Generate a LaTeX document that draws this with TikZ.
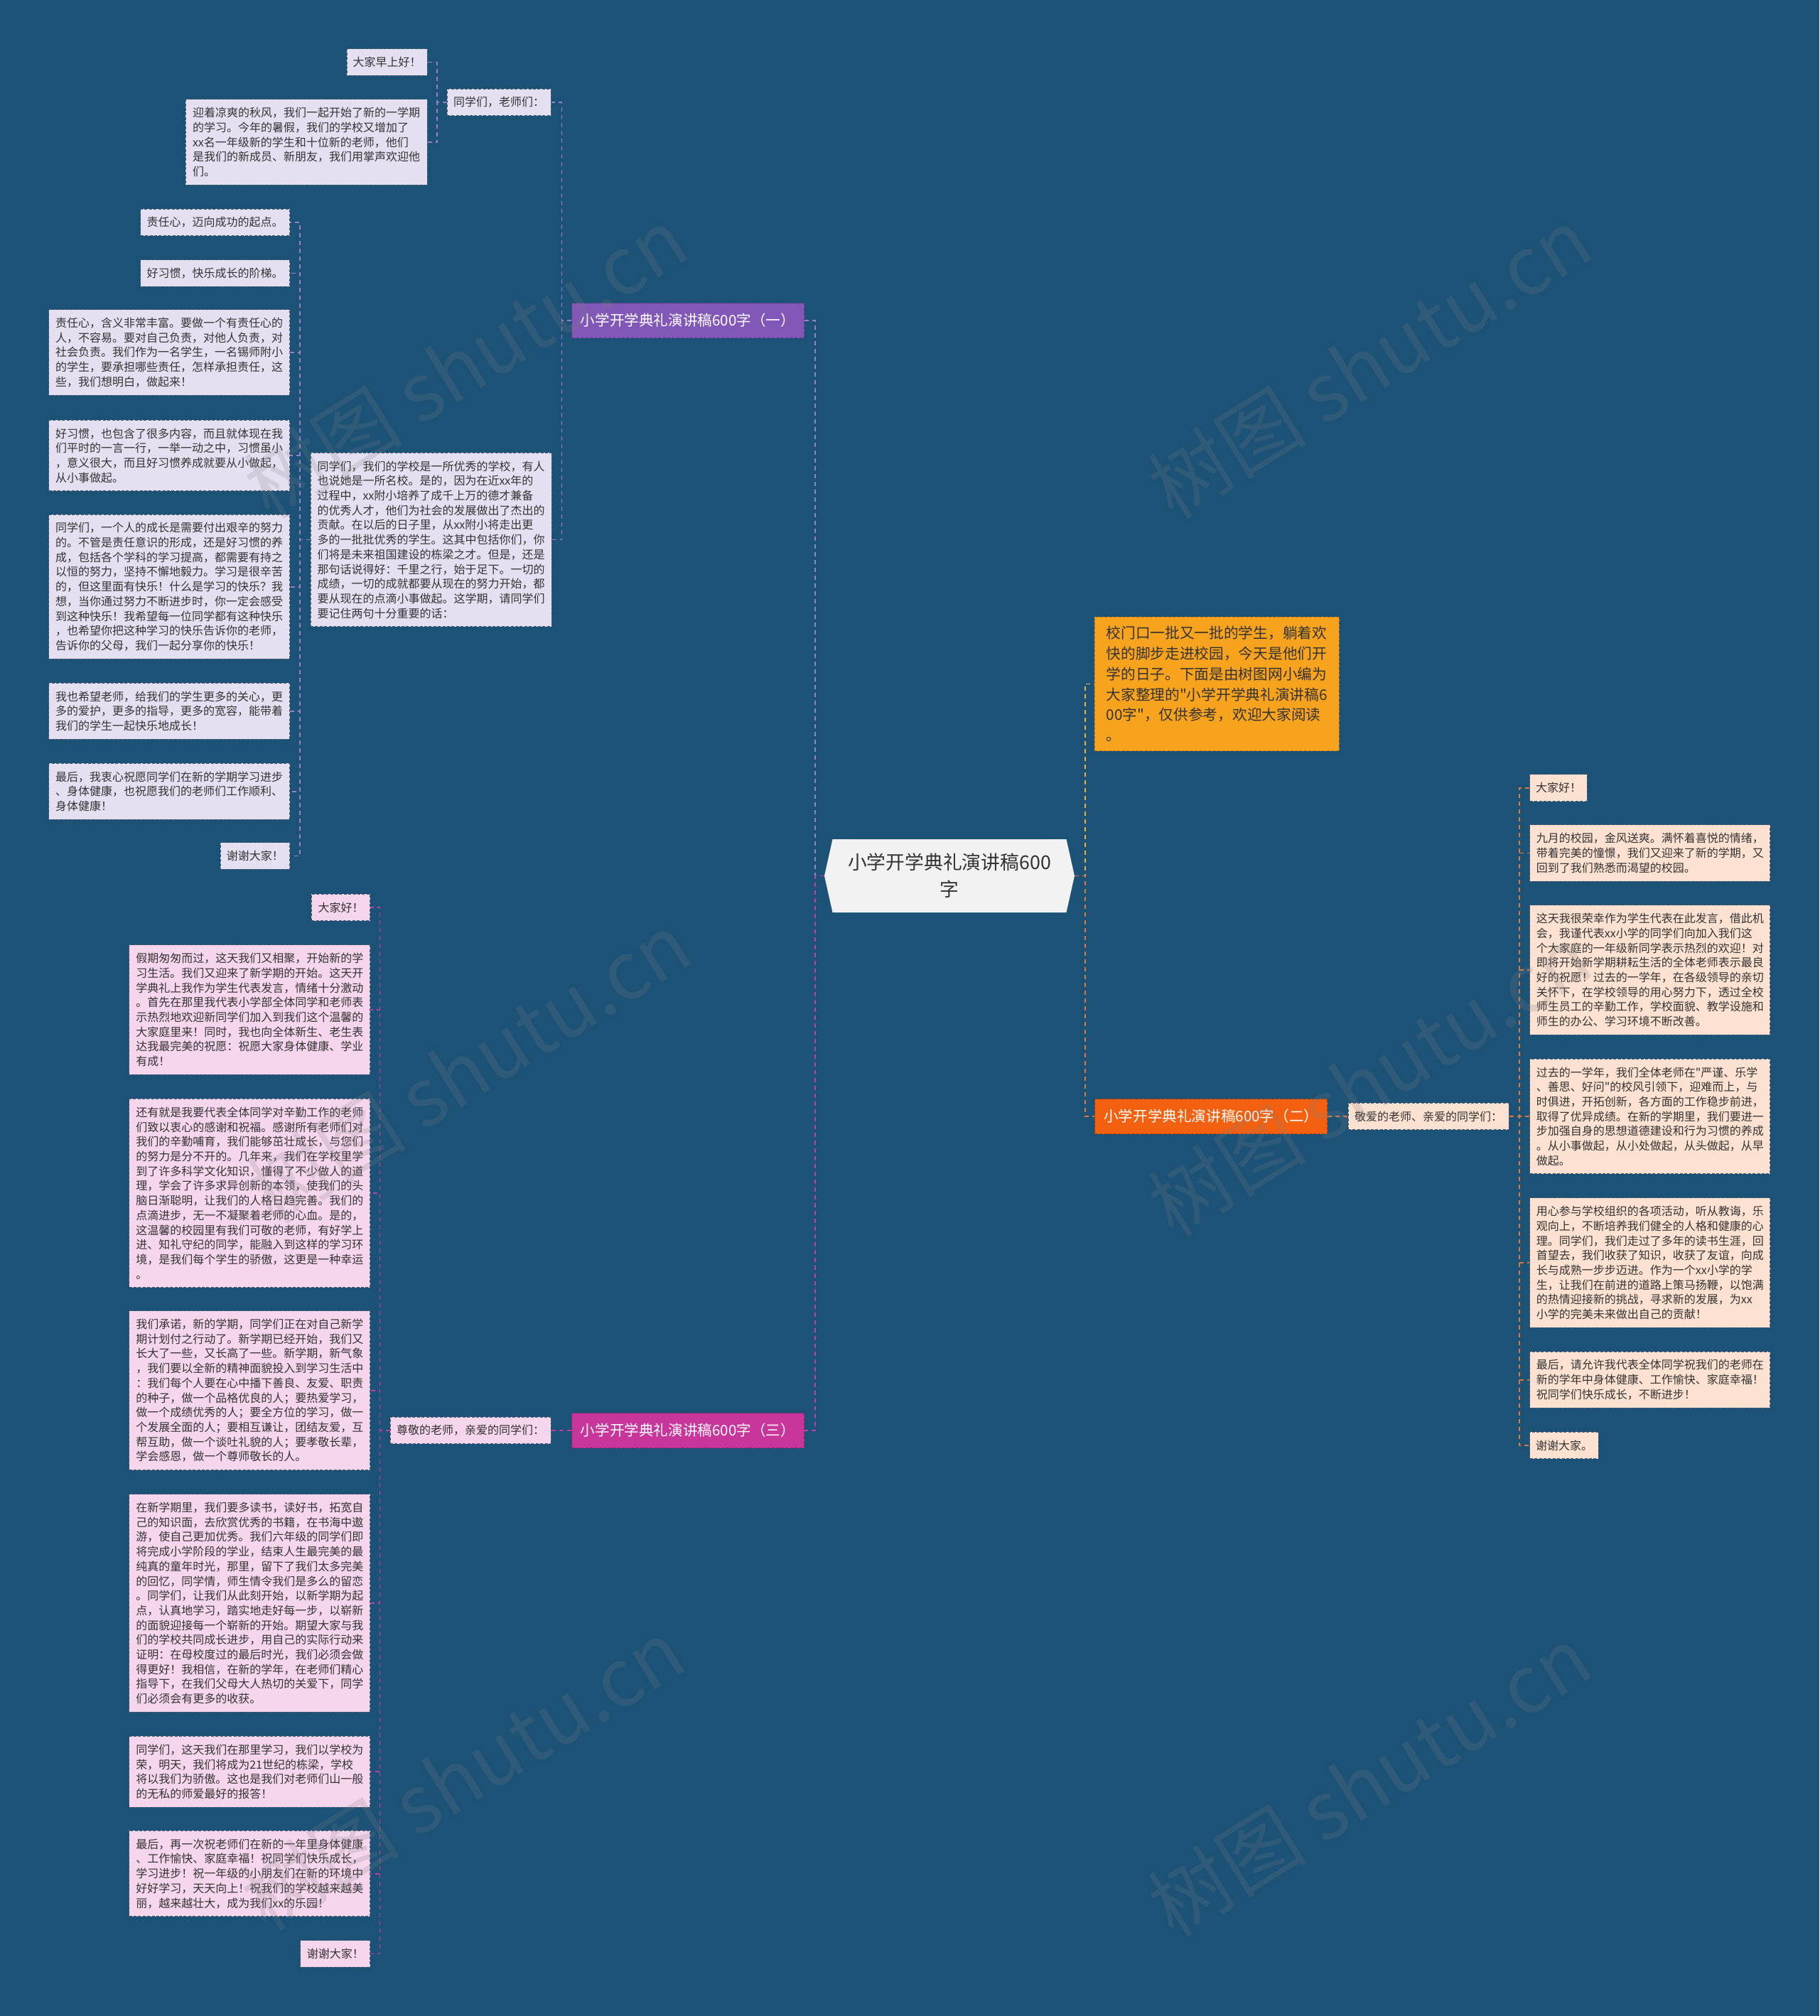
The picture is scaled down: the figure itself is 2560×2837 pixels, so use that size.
\documentclass[tikz,border=0pt]{standalone}
\usepackage{fontspec}
\newfontfamily\cjk{Noto Sans CJK SC}
\usetikzlibrary{calc}
\definecolor{bg}{HTML}{1B5276}
\definecolor{lavc}{HTML}{E5E0F1}
\definecolor{pinkc}{HTML}{F5D6EC}
\definecolor{peachc}{HTML}{FDE1D1}
\definecolor{purc}{HTML}{8157B8}
\definecolor{magc}{HTML}{C8359B}
\definecolor{orac}{HTML}{F3600F}
\definecolor{yelc}{HTML}{F8A31E}
\definecolor{cenc}{HTML}{F2F2F2}
\definecolor{txtc}{HTML}{333333}
\definecolor{bord}{HTML}{4E5D78}
\definecolor{lpur}{HTML}{9A7ECB}
\definecolor{lmag}{HTML}{C23FA0}
\definecolor{lora}{HTML}{DD7840}
\definecolor{lyel}{HTML}{F1B03A}
\newcommand\myfs{\cjk\fontsize{8pt}{10.35pt}\selectfont}
\newcommand\myfi{\cjk\fontsize{10.35pt}{14.35pt}\selectfont}
\newcommand\mybf{\cjk\fontsize{10.3pt}{12pt}\selectfont}
\newcommand\myfc{\cjk\fontsize{13.4pt}{19pt}\selectfont}
\newcommand\mywm{\cjk\fontsize{56pt}{60pt}\selectfont}
\tikzset{
 tb/.style={draw=bord, dash pattern=on 2pt off 1.2pt, line width=0.5pt, inner sep=0pt, align=left, text=txtc, font=\myfs},
 lav/.style={tb, fill=lavc},
 pnk/.style={tb, fill=pinkc},
 pch/.style={tb, fill=peachc},
 nl/.style={minimum height={(8.5+10.35*#1)*1pt}},
 wd/.style={minimum width={#1*0.5pt}},
 br/.style={inner sep=0pt, minimum width=163.5pt, minimum height=24.5pt, text=white, font=\mybf, dash pattern=on 2pt off 1.2pt, line width=0.5pt},
 cn/.style={dash pattern=on 3pt off 2.5pt, line width=0.9pt},
 wm/.style={font=\mywm, text=gray, opacity=0.2, rotate=32},
}
\begin{document}
\begin{tikzpicture}[x=0.5pt,y=-0.5pt]
\useasboundingbox (0,0) rectangle (2560,2837);
\fill[bg] (0,0) rectangle (2560,2837);

% trunks
\coordinate (tL) at (1147,0);
\coordinate (tR) at (1527,0);
\coordinate (t1) at (790.5,0);
\coordinate (t11) at (615,0);
\coordinate (t12) at (421.7,0);
\coordinate (t3) at (534.5,0);
\coordinate (t2) at (2138.3,0);

% center
\node[minimum width=176pt, minimum height=51.5pt, inner sep=0pt, align=center, text=txtc, font=\myfc,
  path picture={\fill[cenc] (path picture bounding box.west) -- ([xshift=5.75pt]path picture bounding box.north west) -- ([xshift=-5.75pt]path picture bounding box.north east) -- (path picture bounding box.east) -- ([xshift=-5.75pt]path picture bounding box.south east) -- ([xshift=5.75pt]path picture bounding box.south west) -- cycle;}]
  (c) at (1336,1232.5) {小学开学典礼演讲稿600\\字};

% branch 1
\node[br, fill=purc, draw=purc!70!black] (b1) at (968,451) {小学开学典礼演讲稿600字（一）};
\node[lav, wd=146, nl=1] (n11) at (702,144) {同学们，老师们：};
\node[lav, wd=113, nl=1] (n111) at (544.5,87.5) {大家早上好！};
\node[lav, wd=340, nl=5] (n112) at (431,200) {迎着凉爽的秋风，我们一起开始了新的一学期\\的学习。今年的暑假，我们的学校又增加了\\xx名一年级新的学生和十位新的老师，他们\\是我们的新成员、新朋友，我们用掌声欢迎他\\们。};
\node[lav, wd=339, nl=11] (n12) at (606.5,759.5) {同学们，我们的学校是一所优秀的学校，有人\\也说她是一所名校。是的，因为在近xx年的\\过程中，xx附小培养了成千上万的德才兼备\\的优秀人才，他们为社会的发展做出了杰出的\\贡献。在以后的日子里，从xx附小将走出更\\多的一批批优秀的学生。这其中包括你们，你\\们将是未来祖国建设的栋梁之才。但是，还是\\那句话说得好：千里之行，始于足下。一切的\\成绩，一切的成就都要从现在的努力开始，都\\要从现在的点滴小事做起。这学期，请同学们\\要记住两句十分重要的话：};
\node[lav, wd=210, nl=1] (n121) at (302.7,313) {责任心，迈向成功的起点。};
\node[lav, wd=210, nl=1] (n122) at (302.7,384.5) {好习惯，快乐成长的阶梯。};
\node[lav, wd=339, nl=5] (n123) at (238,496) {责任心，含义非常丰富。要做一个有责任心的\\人，不容易。要对自己负责，对他人负责，对\\社会负责。我们作为一名学生，一名锡师附小\\的学生，要承担哪些责任，怎样承担责任，这\\些，我们想明白，做起来！};
\node[lav, wd=339, nl=4] (n124) at (238,641) {好习惯，也包含了很多内容，而且就体现在我\\们平时的一言一行，一举一动之中，习惯虽小\\，意义很大，而且好习惯养成就要从小做起，\\从小事做起。};
\node[lav, wd=339, nl=9] (n125) at (238,825.7) {同学们，一个人的成长是需要付出艰辛的努力\\的。不管是责任意识的形成，还是好习惯的养\\成，包括各个学科的学习提高，都需要有持之\\以恒的努力，坚持不懈地毅力。学习是很辛苦\\的，但这里面有快乐！什么是学习的快乐？我\\想，当你通过努力不断进步时，你一定会感受\\到这种快乐！我希望每一位同学都有这种快乐\\，也希望你把这种学习的快乐告诉你的老师，\\告诉你的父母，我们一起分享你的快乐！};
\node[lav, wd=339, nl=3] (n126) at (238,1000.8) {我也希望老师，给我们的学生更多的关心，更\\多的爱护，更多的指导，更多的宽容，能带着\\我们的学生一起快乐地成长！};
\node[lav, wd=339, nl=3] (n127) at (238,1113.7) {最后，我衷心祝愿同学们在新的学期学习进步\\、身体健康，也祝愿我们的老师们工作顺利、\\身体健康！};
\node[lav, wd=97.7, nl=1] (n128) at (358.9,1204.5) {谢谢大家！};

% intro
\node[tb, fill=yelc, draw=yelc!75!black, wd=343.6, minimum height=94.15pt, font=\myfi] (intro) at (1712.2,962.5) {校门口一批又一批的学生，躺着欢\\快的脚步走进校园，今天是他们开\\学的日子。下面是由树图网小编为\\大家整理的"小学开学典礼演讲稿6\\00字"，仅供参考，欢迎大家阅读\\。};

% branch 2
\node[br, fill=orac, draw=orac!70!black] (b2) at (1704.3,1571) {小学开学典礼演讲稿600字（二）};
\node[pch, wd=226.4, nl=1] (n2) at (2010.2,1571) {敬爱的老师、亲爱的同学们：};
\node[pch, wd=80.6, nl=1] (n21) at (2193,1108.7) {大家好！};
\node[pch, wd=338.3, nl=3] (n22) at (2321.8,1200.5) {九月的校园，金风送爽。满怀着喜悦的情绪，\\带着完美的憧憬，我们又迎来了新的学期，又\\回到了我们熟悉而渴望的校园。};
\node[pch, wd=338.3, nl=8] (n23) at (2321.8,1365) {这天我很荣幸作为学生代表在此发言，借此机\\会，我谨代表xx小学的同学们向加入我们这\\个大家庭的一年级新同学表示热烈的欢迎！对\\即将开始新学期耕耘生活的全体老师表示最良\\好的祝愿！过去的一学年，在各级领导的亲切\\关怀下，在学校领导的用心努力下，透过全校\\师生员工的辛勤工作，学校面貌、教学设施和\\师生的办公、学习环境不断改善。};
\node[pch, wd=338.3, nl=7] (n24) at (2321.8,1571) {过去的一学年，我们全体老师在"严谨、乐学\\、善思、好问"的校风引领下，迎难而上，与\\时俱进，开拓创新，各方面的工作稳步前进，\\取得了优异成绩。在新的学期里，我们要进一\\步加强自身的思想道德建设和行为习惯的养成\\。从小事做起，从小处做起，从头做起，从早\\做起。};
\node[pch, wd=338.3, nl=8] (n25) at (2321.8,1777) {用心参与学校组织的各项活动，听从教诲，乐\\观向上，不断培养我们健全的人格和健康的心\\理。同学们，我们走过了多年的读书生涯，回\\首望去，我们收获了知识，收获了友谊，向成\\长与成熟一步步迈进。作为一个xx小学的学\\生，让我们在前进的道路上策马扬鞭，以饱满\\的热情迎接新的挑战，寻求新的发展，为xx\\小学的完美未来做出自己的贡献！};
\node[pch, wd=338.3, nl=3] (n26) at (2321.8,1941.6) {最后，请允许我代表全体同学祝我们的老师在\\新的学年中身体健康、工作愉快、家庭幸福！\\祝同学们快乐成长，不断进步！};
\node[pch, wd=96.6, nl=1] (n27) at (2201,2034) {谢谢大家。};

% branch 3
\node[br, fill=magc, draw=magc!70!black] (b3) at (968,2013) {小学开学典礼演讲稿600字（三）};
\node[pnk, wd=226, nl=1] (n3) at (662,2013) {尊敬的老师，亲爱的同学们：};
\node[pnk, wd=82.7, nl=1] (n31) at (479.6,1277) {大家好！};
\node[pnk, wd=339.3, nl=8] (n32) at (351.3,1421) {假期匆匆而过，这天我们又相聚，开始新的学\\习生活。我们又迎来了新学期的开始。这天开\\学典礼上我作为学生代表发言，情绪十分激动\\。首先在那里我代表小学部全体同学和老师表\\示热烈地欢迎新同学们加入到我们这个温馨的\\大家庭里来！同时，我也向全体新生、老生表\\达我最完美的祝愿：祝愿大家身体健康、学业\\有成！};
\node[pnk, wd=339.3, nl=12] (n33) at (351.3,1679) {还有就是我要代表全体同学对辛勤工作的老师\\们致以衷心的感谢和祝福。感谢所有老师们对\\我们的辛勤哺育，我们能够茁壮成长，与您们\\的努力是分不开的。几年来，我们在学校里学\\到了许多科学文化知识，懂得了不少做人的道\\理，学会了许多求异创新的本领，使我们的头\\脑日渐聪明，让我们的人格日趋完善。我们的\\点滴进步，无一不凝聚着老师的心血。是的，\\这温馨的校园里有我们可敬的老师，有好学上\\进、知礼守纪的同学，能融入到这样的学习环\\境，是我们每个学生的骄傲，这更是一种幸运\\。};
\node[pnk, wd=339.3, nl=10] (n34) at (351.3,1956.7) {我们承诺，新的学期，同学们正在对自己新学\\期计划付之行动了。新学期已经开始，我们又\\长大了一些，又长高了一些。新学期，新气象\\，我们要以全新的精神面貌投入到学习生活中\\：我们每个人要在心中播下善良、友爱、职责\\的种子，做一个品格优良的人；要热爱学习，\\做一个成绩优秀的人；要全方位的学习，做一\\个发展全面的人；要相互谦让，团结友爱，互\\帮互助，做一个谈吐礼貌的人；要孝敬长辈，\\学会感恩，做一个尊师敬长的人。};
\node[pnk, wd=339.3, nl=14] (n35) at (351.3,2255.9) {在新学期里，我们要多读书，读好书，拓宽自\\己的知识面，去欣赏优秀的书籍，在书海中遨\\游，使自己更加优秀。我们六年级的同学们即\\将完成小学阶段的学业，结束人生最完美的最\\纯真的童年时光，那里，留下了我们太多完美\\的回忆，同学情，师生情令我们是多么的留恋\\。同学们，让我们从此刻开始，以新学期为起\\点，认真地学习，踏实地走好每一步，以崭新\\的面貌迎接每一个崭新的开始。期望大家与我\\们的学校共同成长进步，用自己的实际行动来\\证明：在母校度过的最后时光，我们必须会做\\得更好！我相信，在新的学年，在老师们精心\\指导下，在我们父母大人热切的关爱下，同学\\们必须会有更多的收获。};
\node[pnk, wd=339.3, nl=4] (n36) at (351.3,2493.3) {同学们，这天我们在那里学习，我们以学校为\\荣，明天，我们将成为21世纪的栋梁，学校\\将以我们为骄傲。这也是我们对老师们山一般\\的无私的师爱最好的报答！};
\node[pnk, wd=339.3, nl=5] (n37) at (351.3,2636.7) {最后，再一次祝老师们在新的一年里身体健康\\、工作愉快、家庭幸福！祝同学们快乐成长，\\学习进步！祝一年级的小朋友们在新的环境中\\好好学习，天天向上！祝我们的学校越来越美\\丽，越来越壮大，成为我们xx的乐园！};
\node[pnk, wd=98.3, nl=1] (n38) at (471.8,2749.5) {谢谢大家！};

% connectors
\draw[cn, draw=lpur] (c.west) -- (c.west -| tL) |- (b1.east);
\draw[cn, draw=lmag] (c.west) -- (c.west -| tL) |- (b3.east);
\draw[cn, draw=lyel] (c.east) -- (c.east -| tR) |- (intro.west);
\draw[cn, draw=lora] (c.east) -- (c.east -| tR) |- (b2.west);
\foreach \k in {n11,n12} \draw[cn, draw=lpur] (b1.west) -- (b1.west -| t1) |- (\k.east);
\foreach \k in {n111,n112} \draw[cn, draw=lpur] (n11.west) -- (n11.west -| t11) |- (\k.east);
\foreach \k in {n121,n122,n123,n124,n125,n126,n127,n128} \draw[cn, draw=lpur] (n12.west) -- (n12.west -| t12) |- (\k.east);
\draw[cn, draw=lmag] (b3.west) -- (n3.east);
\foreach \k in {n31,n32,n33,n34,n35,n36,n37,n38} \draw[cn, draw=lmag] (n3.west) -- (n3.west -| t3) |- (\k.east);
\draw[cn, draw=lora] (b2.east) -- (n2.west);
\foreach \k in {n21,n22,n23,n24,n25,n26,n27} \draw[cn, draw=lora] (n2.east) -- (n2.east -| t2) |- (\k.west);

% watermarks
\node[wm] (w1) at (655,510) {树图 shutu.cn};
\node[wm] (w2) at (1927,510) {树图 shutu.cn};
\node[wm] (w3) at (660,1502) {树图 shutu.cn};
\node[wm] (w4) at (1927,1520) {树图 shutu.cn};
\node[wm] (w5) at (651,2497) {树图 shutu.cn};
\node[wm] (w6) at (1927,2506) {树图 shutu.cn};
\end{tikzpicture}
\end{document}
